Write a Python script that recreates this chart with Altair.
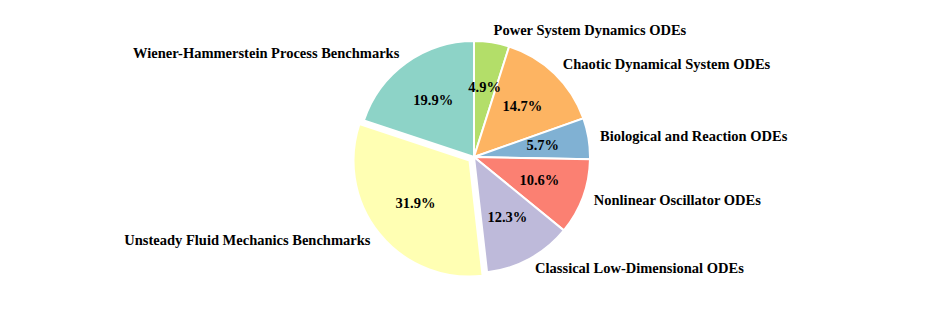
import math
import altair as alt
import pandas as pd

# Slices listed clockwise from 12 o'clock
categories = [
    "Power System Dynamics ODEs",
    "Chaotic Dynamical System ODEs",
    "Biological and Reaction ODEs",
    "Nonlinear Oscillator ODEs",
    "Classical Low-Dimensional ODEs",
    "Unsteady Fluid Mechanics Benchmarks",
    "Wiener-Hammerstein Process Benchmarks",
]
shares = [4.9, 14.7, 5.7, 10.6, 12.3, 31.9, 19.9]
colors = ["#b3de69", "#fdb462", "#80b1d3", "#fb8072", "#bebada", "#ffffb3", "#8dd3c7"]
exploded = "Unsteady Fluid Mechanics Benchmarks"

df = pd.DataFrame({"category": categories, "share": shares, "idx": list(range(len(categories)))})

R = 116
CX, CY = 466, 149
DX, DY = -4.5, 3.6
FONT = "Liberation Serif"

base = (
    alt.Chart(df)
    .transform_joinaggregate(total="sum(share)")
    .transform_window(cum="sum(share)", sort=[alt.SortField("idx")])
    .transform_calculate(
        side="(datum.cum - datum.share/2)/datum.total < 0.5 ? 'right' : 'left'",
        ex=f"datum.category === '{exploded}'",
        pct="format(datum.share, '.1f') + '%'",
    )
)

theta = alt.Theta("share:Q", stack=True)
order = alt.Order("idx:Q")
color = alt.Color("category:N", scale=alt.Scale(domain=categories, range=colors), legend=None)
pos = dict(x=alt.value(CX), y=alt.value(CY))

arc_main = base.mark_arc(outerRadius=R, stroke="white", strokeWidth=2).encode(
    theta=theta, order=order, color=color,
    opacity=alt.condition("datum.ex", alt.value(0), alt.value(1)), **pos
)
arc_ex = base.mark_arc(outerRadius=R, stroke="white", strokeWidth=2, xOffset=DX, yOffset=DY).encode(
    theta=theta, order=order, color=color,
    opacity=alt.condition("datum.ex", alt.value(1), alt.value(0)), **pos
)

pct_kw = dict(radius=R * 0.6, font=FONT, fontWeight="bold", fontSize=14.5, align="center", baseline="middle", color="black")
pct_main = base.mark_text(**pct_kw).encode(
    theta=theta, order=order, text=alt.condition("!datum.ex", "pct:N", alt.value("")), **pos
)
pct_ex = base.mark_text(dx=DX, dy=DY, **pct_kw).encode(
    theta=theta, order=order, text=alt.condition("datum.ex", "pct:N", alt.value("")), **pos
)

lab_kw = dict(radius=R * 1.1, font=FONT, fontWeight="bold", fontSize=14.5, baseline="middle", color="black")
lab_right = base.mark_text(align="left", **lab_kw).encode(
    theta=theta, order=order,
    text=alt.condition("datum.side === 'right'", "category:N", alt.value("")), **pos
)
lab_left = base.mark_text(align="right", **lab_kw).encode(
    theta=theta, order=order,
    text=alt.condition("datum.side === 'left' && !datum.ex", "category:N", alt.value("")), **pos
)
lab_left_ex = base.mark_text(align="right", dx=DX, dy=DY, **lab_kw).encode(
    theta=theta, order=order,
    text=alt.condition("datum.ex", "category:N", alt.value("")), **pos
)

chart = (
    alt.layer(arc_main, arc_ex, pct_main, pct_ex, lab_right, lab_left, lab_left_ex)
    .properties(width=931, height=300, autosize=alt.AutoSizeParams(type="none"), padding=0)
    .configure_view(stroke=None)
)

chart.save("out.html", embed_options={"renderer": "svg", "actions": False})
